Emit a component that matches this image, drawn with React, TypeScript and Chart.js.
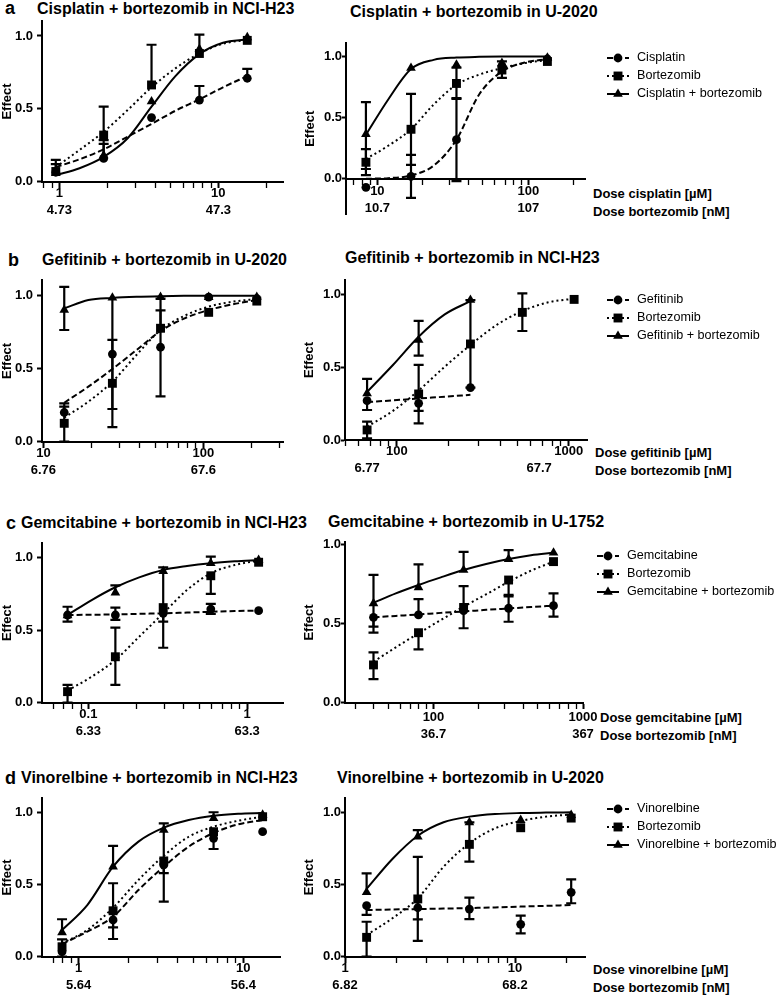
import React, { useEffect, useRef } from "react";
import { Chart, registerables } from "chart.js";

Chart.register(...registerables);
const FONT = "Arial, 'Liberation Sans', Helvetica, sans-serif";
Chart.defaults.font.family = FONT;
Chart.defaults.color = "#000";

// ---------------- DATA ----------------
const yTickVals = [0, 0.5, 1.0];

// Row a, left: Cisplatin + bortezomib in NCI-H23
const aL_doses = [0.95, 1.9, 3.8, 7.6, 15.2];
const aL_fitX = [0.95, 1.34, 1.9, 2.69, 3.8, 5.37, 7.6, 10.7, 15.2];
const aL_drug = [0.065, 0.16, 0.44, 0.56, 0.71];
const aL_drugLo = [null, null, null, null, null];
const aL_drugHi = [0.12, 0.26, null, 0.657, 0.775];
const aL_drugFit = [0.1, 0.154, 0.222, 0.309, 0.396, 0.487, 0.565, 0.648, 0.725];
const aL_bort = [0.07, 0.32, 0.664, 0.88, 0.97];
const aL_bortLo = [null, null, null, null, null];
const aL_bortHi = [0.15, 0.515, 0.94, null, null];
const aL_bortFit = [0.1, 0.218, 0.343, 0.492, 0.648, 0.778, 0.88, 0.947, 0.973];
const aL_combo = [0.06, 0.18, 0.55, 0.91, 0.99];
const aL_comboLo = [null, null, null, null, null];
const aL_comboHi = [null, 0.285, null, 1.01, null];
const aL_comboFit = [0.045, 0.092, 0.17, 0.298, 0.515, 0.725, 0.876, 0.954, 0.977];
const aL_ticks = [1, 10];
const aL_tickLabels = ["1", "10"];
const aL_secTicks = [1, 10];
const aL_secLabels = ["4.73", "47.3"];

// Row a, right: Cisplatin + bortezomib in U-2020
const aR_doses = [8.4, 16.7, 33.4, 66.8, 133.6];
const aR_fitX = [8.4, 11.8, 16.7, 23.6, 33.4, 47.2, 66.8, 94.5, 133.6];
const aR_drug = [-0.07, 0.02, 0.32, 0.92, 0.98];
const aR_drugLo = [null, -0.157, -0.02, null, null];
const aR_drugHi = [null, 0.195, 0.66, null, null];
const aR_drugFit = [0.0, 0.005, 0.027, 0.108, 0.32, 0.69, 0.878, 0.951, 0.979];
const aR_bort = [0.135, 0.405, 0.78, 0.89, 0.96];
const aR_bortLo = [0.03, 0.114, 0.654, 0.825, null];
const aR_bortHi = [0.243, 0.695, 0.91, 0.96, null];
const aR_bortFit = [0.162, 0.27, 0.405, 0.608, 0.77, 0.852, 0.906, 0.946, 0.973];
const aR_combo = [0.365, 0.906, 0.933, 0.946, 0.99];
const aR_comboLo = [0.08, null, null, null, null];
const aR_comboHi = [0.627, null, null, null, null];
const aR_comboFit = [0.36, 0.649, 0.898, 0.973, 0.992, 0.998, 1.0, 1.0, 1.0];
const aR_ticks = [10, 100];
const aR_tickLabels = ["10", "100"];
const aR_secTicks = [10, 100];
const aR_secLabels = ["10.7", "107"];
const a_legend = ["Cisplatin", "Bortezomib", "Cisplatin + bortezomib"];

// Row b, left: Gefitinib + bortezomib in U-2020
const bL_doses = [13.5, 27, 54, 108, 216];
const bL_fitX = [13.5, 19.1, 27, 38.2, 54, 76.4, 108, 153, 216];
const bL_drug = [0.2, 0.6, 0.647, 0.99, 0.98];
const bL_drugLo = [null, null, 0.31, null, null];
const bL_drugHi = [0.263, null, 0.98, null, null];
const bL_drugFit = [0.267, 0.377, 0.498, 0.628, 0.758, 0.845, 0.902, 0.941, 0.97];
const bL_bort = [0.126, 0.4, 0.777, 0.886, 0.963];
const bL_bortLo = [0.0, 0.1, null, null, null];
const bL_bortHi = [0.24, 0.697, 0.9, null, null];
const bL_bortFit = [0.165, 0.274, 0.411, 0.594, 0.765, 0.863, 0.925, 0.959, 0.977];
const bL_combo = [0.902, 0.986, 0.99, 0.99, 0.99];
const bL_comboLo = [0.765, 0.224, null, null, null];
const bL_comboHi = [1.06, null, null, null, null];
const bL_comboFit = [0.913, 0.97, 0.985, 0.993, 0.997, 0.999, 1.0, 1.0, 1.0];
const bL_ticks = [10, 100];
const bL_tickLabels = ["10", "100"];
const bL_secTicks = [10, 100];
const bL_secLabels = ["6.76", "67.6"];

// Row b, right: Gefitinib + bortezomib in NCI-H23
const bR_doses = [67.2, 134, 268, 537, 1074];
const bR_fitX = [67.2, 95, 134, 190, 268, 380, 537, 760, 1074];
const bR_drug = [0.27, 0.252, 0.359];
const bR_drugLo = [0.206, 0.2, null];
const bR_drugHi = [null, null, null];
const bR_drugFit = [0.26, 0.272, 0.285, 0.297, 0.31];
const bR_bort = [0.069, 0.316, 0.659, 0.876, 0.965];
const bR_bortLo = [0.012, 0.114, 0.36, 0.748, null];
const bR_bortHi = [0.126, 0.515, 0.96, 1.007, null];
const bR_bortFit = [0.091, 0.2, 0.34, 0.503, 0.652, 0.789, 0.885, 0.945, 0.97];
const bR_combo = [0.32, 0.686, 0.961];
const bR_comboLo = [null, 0.579, null];
const bR_comboHi = [0.419, 0.817, null];
const bR_comboFit = [0.33, 0.515, 0.709, 0.862, 0.953];
const bR_ticks = [100, 1000];
const bR_tickLabels = ["100", "1000"];
const bR_secTicks = [67.2, 672];
const bR_secLabels = ["6.77", "67.7"];
const b_legend = ["Gefitinib", "Bortezomib", "Gefitinib + bortezomib"];

// Row c, left: Gemcitabine + bortezomib in NCI-H23
const cL_doses = [0.074, 0.148, 0.296, 0.59, 1.18];
const cL_fitX = [0.074, 0.105, 0.148, 0.209, 0.296, 0.418, 0.59, 0.835, 1.18];
const cL_drug = [0.603, 0.603, 0.615, 0.644, 0.633];
const cL_drugLo = [0.557, 0.57, 0.557, 0.61, null];
const cL_drugHi = [0.66, 0.654, null, 0.68, null];
const cL_drugFit = [0.603, 0.605, 0.607, 0.611, 0.615, 0.62, 0.625, 0.63, 0.634];
const cL_bort = [0.076, 0.316, 0.654, 0.873, 0.966];
const cL_bortLo = [0.0, 0.122, 0.378, 0.748, null];
const cL_bortHi = [0.122, 0.516, 0.931, null, null];
const cL_bortFit = [0.083, 0.179, 0.294, 0.454, 0.615, 0.775, 0.89, 0.947, 0.977];
const cL_combo = [0.6, 0.757, 0.905, 0.959, 0.98];
const cL_comboLo = [null, null, null, null, null];
const cL_comboHi = [null, 0.807, null, 1.004, null];
const cL_comboFit = [0.603, 0.706, 0.794, 0.862, 0.913, 0.94, 0.959, 0.972, 0.981];
const cL_ticks = [0.1, 1];
const cL_tickLabels = ["0.1", "1"];
const cL_secTicks = [0.1, 1];
const cL_secLabels = ["6.33", "63.3"];

// Row c, right: Gemcitabine + bortezomib in U-1752
const cR_doses = [39.7, 79.4, 159, 318, 635];
const cR_fitX = [39.7, 56, 79.4, 112, 159, 225, 318, 449, 635];
const cR_drug = [0.538, 0.553, 0.58, 0.595, 0.611];
const cR_drugLo = [0.441, null, null, 0.51, 0.542];
const cR_drugHi = [null, 0.653, null, 0.67, 0.689];
const cR_drugFit = [0.538, 0.547, 0.556, 0.566, 0.575, 0.585, 0.594, 0.603, 0.611];
const cR_bort = [0.238, 0.441, 0.6, 0.773, 0.889];
const cR_bortLo = [0.149, 0.336, 0.469, 0.679, null];
const cR_bortHi = [0.317, null, 0.735, null, null];
const cR_bortFit = [0.258, 0.349, 0.437, 0.521, 0.605, 0.683, 0.762, 0.832, 0.889];
const cR_combo = [0.626, 0.727, 0.836, 0.905, 0.945];
const cR_comboLo = [0.479, null, null, null, null];
const cR_comboHi = [0.805, 0.872, 0.951, 0.962, null];
const cR_comboFit = [0.63, 0.689, 0.742, 0.79, 0.836, 0.874, 0.905, 0.929, 0.945];
const cR_ticks = [100, 1000];
const cR_tickLabels = ["100", "1000"];
const cR_secTicks = [100, 1000];
const cR_secLabels = ["36.7", "367"];
const c_legend = ["Gemcitabine", "Bortezomib", "Gemcitabine + bortezomib"];

// Row d, left: Vinorelbine + bortezomib in NCI-H23
const dL_doses = [0.794, 1.62, 3.29, 6.6, 13.1];
const dL_fitX = [0.794, 1.13, 1.62, 2.31, 3.29, 4.66, 6.6, 9.3, 13.1];
const dL_drug = [0.035, 0.255, 0.637, 0.822, 0.868];
const dL_drugLo = [null, 0.123, 0.382, 0.748, null];
const dL_drugHi = [null, null, null, null, null];
const dL_drugFit = [0.088, 0.174, 0.278, 0.463, 0.625, 0.764, 0.859, 0.919, 0.949];
const dL_bort = [0.069, 0.319, 0.665, 0.868, 0.972];
const dL_bortLo = [0.0, 0.204, 0.58, null, null];
const dL_bortHi = [0.12, 0.51, 0.926, null, null];
const dL_bortFit = [0.093, 0.185, 0.34, 0.533, 0.701, 0.833, 0.903, 0.944, 0.972];
const dL_combo = [0.169, 0.625, 0.88, 0.961, 0.985];
const dL_comboLo = [null, null, null, null, null];
const dL_comboHi = [0.26, 0.769, null, 1.003, null];
const dL_comboFit = [0.185, 0.359, 0.625, 0.799, 0.896, 0.949, 0.979, 0.993, 0.998];
const dL_ticks = [1, 10];
const dL_tickLabels = ["1", "10"];
const dL_secTicks = [1, 10];
const dL_secLabels = ["5.64", "56.4"];

// Row d, right: Vinorelbine + bortezomib in U-2020
const dR_doses = [1.34, 2.68, 5.39, 10.8, 21.4];
const dR_fitX = [1.34, 1.9, 2.68, 3.8, 5.39, 7.63, 10.8, 15.2, 21.4];
const dR_drug = [0.353, 0.339, 0.33, 0.224, 0.446];
const dR_drugLo = [0.289, 0.259, 0.26, 0.162, 0.37];
const dR_drugHi = [null, null, 0.409, 0.284, 0.536];
const dR_drugFit = [0.323, 0.327, 0.33, 0.333, 0.337, 0.341, 0.347, 0.352, 0.358];
const dR_bort = [0.134, 0.4, 0.778, 0.893, 0.96];
const dR_bortLo = [0.0, 0.109, 0.658, null, null];
const dR_bortHi = [0.242, 0.692, 0.93, null, null];
const dR_bortFit = [0.15, 0.266, 0.404, 0.623, 0.785, 0.889, 0.94, 0.97, 0.985];
const dR_combo = [0.446, 0.831, 0.93, 0.946, 0.98];
const dR_comboLo = [null, null, null, null, null];
const dR_comboHi = [0.577, 0.877, null, null, null];
const dR_comboFit = [0.47, 0.677, 0.838, 0.931, 0.97, 0.988, 0.995, 0.998, 1.0];
const dR_ticks = [1, 10];
const dR_tickLabels = ["1", "10"];
const dR_secTicks = [1, 10];
const dR_secLabels = ["6.82", "68.2"];
const d_legend = ["Vinorelbine", "Bortezomib", "Vinorelbine + bortezomib"];

// ---------------- STYLE ----------------
type Style = "circle" | "rect" | "triangle";
const STYLE_DRUG = { style: "circle" as Style, dash: [6, 3] };
const STYLE_BORT = { style: "rect" as Style, dash: [2, 3] };
const STYLE_COMBO = { style: "triangle" as Style, dash: [] as number[] };
const RADIUS: Record<Style, number> = { circle: 4.4, rect: 6.3, triangle: 5.6 };

type Series = { style: Style; dash: number[]; y: number[]; lo: (number | null)[]; hi: (number | null)[]; fit: number[] };
type PanelDef = {
  side: "left" | "right";
  axisX: number; xEnd: number; pix0: number; pix1: number;
  yMin: number; yMax: number; xMin: number; xMax: number;
  doses: number[]; fitX: number[];
  ticks: number[]; tickLabels: string[]; secTicks: number[]; secLabels: string[];
  series: Series[];
  legend?: { x: number; y: number; labels: string[] };
  lblOff?: number;
};

const mk = (st: any, y: number[], lo: any[], hi: any[], fit: number[]): Series => ({ ...st, y, lo, hi, fit });

const panels: PanelDef[] = [
  {
    side: "left", axisX: 42, xEnd: 283, pix0: 181.7, pix1: 36, yMin: 0, yMax: 1.1, xMin: 0.778, xMax: 25.5,
    doses: aL_doses, fitX: aL_fitX, ticks: aL_ticks, tickLabels: aL_tickLabels, secTicks: aL_secTicks, secLabels: aL_secLabels,
    series: [mk(STYLE_DRUG, aL_drug, aL_drugLo, aL_drugHi, aL_drugFit), mk(STYLE_BORT, aL_bort, aL_bortLo, aL_bortHi, aL_bortFit), mk(STYLE_COMBO, aL_combo, aL_comboLo, aL_comboHi, aL_comboFit)],
  },
  {
    side: "right", axisX: 346, xEnd: 585, pix0: 180, pix1: 56.7, yMin: -0.29, yMax: 1.108, xMin: 6.2, xMax: 237,
    doses: aR_doses, fitX: aR_fitX, ticks: aR_ticks, tickLabels: aR_tickLabels, secTicks: aR_secTicks, secLabels: aR_secLabels,
    series: [mk(STYLE_DRUG, aR_drug, aR_drugLo, aR_drugHi, aR_drugFit), mk(STYLE_BORT, aR_bort, aR_bortLo, aR_bortHi, aR_bortFit), mk(STYLE_COMBO, aR_combo, aR_comboLo, aR_comboHi, aR_comboFit)],
    legend: { x: 607, y: 58, labels: a_legend }, lblOff: 13,
  },
  {
    side: "left", axisX: 42, xEnd: 283, pix0: 441.7, pix1: 295.7, yMin: 0, yMax: 1.107, xMin: 9.8, xMax: 315,
    doses: bL_doses, fitX: bL_fitX, ticks: bL_ticks, tickLabels: bL_tickLabels, secTicks: bL_secTicks, secLabels: bL_secLabels,
    series: [mk(STYLE_DRUG, bL_drug, bL_drugLo, bL_drugHi, bL_drugFit), mk(STYLE_BORT, bL_bort, bL_bortLo, bL_bortHi, bL_bortFit), mk(STYLE_COMBO, bL_combo, bL_comboLo, bL_comboHi, bL_comboFit)],
  },
  {
    side: "right", axisX: 345, xEnd: 587, pix0: 440, pix1: 294.3, yMin: 0, yMax: 1.098, xMin: 50, xMax: 1276,
    doses: bR_doses, fitX: bR_fitX, ticks: bR_ticks, tickLabels: bR_tickLabels, secTicks: bR_secTicks, secLabels: bR_secLabels,
    series: [mk(STYLE_DRUG, bR_drug, bR_drugLo, bR_drugHi, bR_drugFit), mk(STYLE_BORT, bR_bort, bR_bortLo, bR_bortHi, bR_bortFit), mk(STYLE_COMBO, bR_combo, bR_comboLo, bR_comboHi, bR_comboFit)],
    legend: { x: 607, y: 300, labels: b_legend },
  },
  {
    side: "left", axisX: 42, xEnd: 283, pix0: 702.7, pix1: 557.3, yMin: 0, yMax: 1.096, xMin: 0.0511, xMax: 1.68,
    doses: cL_doses, fitX: cL_fitX, ticks: cL_ticks, tickLabels: cL_tickLabels, secTicks: cL_secTicks, secLabels: cL_secLabels,
    series: [mk(STYLE_DRUG, cL_drug, cL_drugLo, cL_drugHi, cL_drugFit), mk(STYLE_BORT, cL_bort, cL_bortLo, cL_bortHi, cL_bortFit), mk(STYLE_COMBO, cL_combo, cL_comboLo, cL_comboHi, cL_comboFit)],
  },
  {
    side: "right", axisX: 345, xEnd: 583, pix0: 702.7, pix1: 544, yMin: 0, yMax: 1.01, xMin: 25.6, xMax: 1000,
    doses: cR_doses, fitX: cR_fitX, ticks: cR_ticks, tickLabels: cR_tickLabels, secTicks: cR_secTicks, secLabels: cR_secLabels,
    series: [mk(STYLE_DRUG, cR_drug, cR_drugLo, cR_drugHi, cR_drugFit), mk(STYLE_BORT, cR_bort, cR_bortLo, cR_bortHi, cR_bortFit), mk(STYLE_COMBO, cR_combo, cR_comboLo, cR_comboHi, cR_comboFit)],
    legend: { x: 597, y: 556, labels: c_legend }, lblOff: 14.5,
  },
  {
    side: "left", axisX: 42, xEnd: 280, pix0: 956.7, pix1: 812.7, yMin: 0, yMax: 1.1, xMin: 0.625, xMax: 16.7,
    doses: dL_doses, fitX: dL_fitX, ticks: dL_ticks, tickLabels: dL_tickLabels, secTicks: dL_secTicks, secLabels: dL_secLabels,
    series: [mk(STYLE_DRUG, dL_drug, dL_drugLo, dL_drugHi, dL_drugFit), mk(STYLE_BORT, dL_bort, dL_bortLo, dL_bortHi, dL_bortFit), mk(STYLE_COMBO, dL_combo, dL_comboLo, dL_comboHi, dL_comboFit)],
  },
  {
    side: "right", axisX: 345, xEnd: 585, pix0: 956.7, pix1: 812.3, yMin: 0, yMax: 1.1, xMin: 1, xMax: 25.8,
    doses: dR_doses, fitX: dR_fitX, ticks: dR_ticks, tickLabels: dR_tickLabels, secTicks: dR_secTicks, secLabels: dR_secLabels,
    series: [mk(STYLE_DRUG, dR_drug, dR_drugLo, dR_drugHi, dR_drugFit), mk(STYLE_BORT, dR_bort, dR_bortLo, dR_bortHi, dR_bortFit), mk(STYLE_COMBO, dR_combo, dR_comboLo, dR_comboHi, dR_comboFit)],
    legend: { x: 607, y: 809, labels: d_legend },
  },
];

const titles = [
  { t: "Cisplatin + bortezomib in NCI-H23", x: 37, y: 9 },
  { t: "Cisplatin + bortezomib in U-2020", x: 350, y: 12 },
  { t: "Gefitinib + bortezomib in U-2020", x: 42, y: 260 },
  { t: "Gefitinib + bortezomib in NCI-H23", x: 345, y: 258 },
  { t: "Gemcitabine + bortezomib in NCI-H23", x: 21, y: 523 },
  { t: "Gemcitabine + bortezomib in U-1752", x: 328, y: 522 },
  { t: "Vinorelbine + bortezomib in NCI-H23", x: 21, y: 778 },
  { t: "Vinorelbine + bortezomib in U-2020", x: 337, y: 778 },
];
const letters = [
  { t: "a", x: 5, y: 8 }, { t: "b", x: 8, y: 260 }, { t: "c", x: 6, y: 523 }, { t: "d", x: 5, y: 778 },
];
const doseLabels = [
  { t: "Dose cisplatin [µM]", x: 593, y: 193 },
  { t: "Dose bortezomib [nM]", x: 593, y: 211 },
  { t: "Dose gefitinib [µM]", x: 595, y: 452 },
  { t: "Dose bortezomib [nM]", x: 595, y: 470 },
  { t: "Dose gemcitabine [µM]", x: 600, y: 717 },
  { t: "Dose bortezomib [nM]", x: 600, y: 735 },
  { t: "Dose vinorelbine [µM]", x: 593, y: 969 },
  { t: "Dose bortezomib [nM]", x: 593, y: 987 },
];

// ---------------- PLUGINS ----------------
function drawMarker(ctx: CanvasRenderingContext2D, style: Style, x: number, y: number) {
  const r = RADIUS[style];
  ctx.beginPath();
  if (style === "circle") ctx.arc(x, y, r, 0, Math.PI * 2);
  else if (style === "rect") { const s = r * Math.SQRT1_2; ctx.rect(x - s, y - s, 2 * s, 2 * s); }
  else {
    let a = 0;
    ctx.moveTo(x + Math.sin(a) * r, y - Math.cos(a) * r);
    a += (2 * Math.PI) / 3; ctx.lineTo(x + Math.sin(a) * r, y - Math.cos(a) * r);
    a += (2 * Math.PI) / 3; ctx.lineTo(x + Math.sin(a) * r, y - Math.cos(a) * r);
    ctx.closePath();
  }
  ctx.fillStyle = "#000";
  ctx.fill();
}

const errorBars = {
  id: "errorBars",
  beforeDatasetsDraw(chart: any) {
    const ctx = chart.ctx as CanvasRenderingContext2D;
    const xs = chart.scales.x, ys = chart.scales.y;
    ctx.save();
    ctx.strokeStyle = "#000";
    ctx.lineWidth = 2.2;
    chart.data.datasets.forEach((ds: any) => {
      if (!ds.errLo) return;
      ds.data.forEach((pt: any, i: number) => {
        const lo = ds.errLo[i], hi = ds.errHi[i];
        if (lo == null && hi == null) return;
        const px = xs.getPixelForValue(pt.x);
        const y0 = ys.getPixelForValue(lo == null ? pt.y : lo);
        const y1 = ys.getPixelForValue(hi == null ? pt.y : hi);
        ctx.beginPath();
        ctx.moveTo(px, y0); ctx.lineTo(px, y1);
        if (lo != null) { ctx.moveTo(px - 5, y0); ctx.lineTo(px + 5, y0); }
        if (hi != null) { ctx.moveTo(px - 5, y1); ctx.lineTo(px + 5, y1); }
        ctx.stroke();
      });
    });
    ctx.restore();
  },
};

const sideLegend = {
  id: "sideLegend",
  afterDraw(chart: any, _a: any, opts: any) {
    if (!opts || !opts.items) return;
    const ctx = chart.ctx as CanvasRenderingContext2D;
    ctx.save();
    opts.items.forEach((it: any, i: number) => {
      const y = opts.y + i * 18;
      ctx.strokeStyle = "#000";
      ctx.lineWidth = 2;
      ctx.setLineDash(it.dash);
      ctx.beginPath();
      ctx.moveTo(opts.x, y); ctx.lineTo(opts.x + 22, y);
      ctx.stroke();
      ctx.setLineDash([]);
      drawMarker(ctx, it.style, opts.x + 11, y);
      ctx.fillStyle = "#000";
      ctx.font = `12.6px ${FONT}`;
      ctx.textBaseline = "middle";
      ctx.fillText(it.label, opts.x + 30, y);
    });
    ctx.restore();
  },
};

function logTicks(min: number, max: number) {
  const out: number[] = [];
  for (let e = Math.floor(Math.log10(min)) - 1; e <= Math.ceil(Math.log10(max)); e++) {
    for (let k = 1; k <= 9; k++) {
      const v = Number((k * Math.pow(10, e)).toPrecision(6));
      if (v >= min * 0.9999 && v <= max * 1.0001) out.push(v);
    }
  }
  return out;
}
const isDecade = (v: number) => v > 0 && Math.abs(Math.log10(v) - Math.round(Math.log10(v))) < 1e-6;
const findIdx = (arr: number[], v: number) => arr.findIndex((t) => Math.abs(t - v) / t < 1e-4);

// ---------------- COMPONENTS ----------------
function Panel({ p }: { p: PanelDef }) {
  const ref = useRef<HTMLCanvasElement>(null);
  const left = p.side === "left";
  const yW = left ? 42 : 43;
  const unit = p.pix0 - p.pix1;
  const top = p.pix0 - p.yMax * unit;
  const bottom = p.pix0 - p.yMin * unit;
  const cLeft = Math.round(p.axisX - yW);
  const cTop = Math.floor(top) - 14;
  const padTop = top - cTop;
  const W = left ? Math.round(p.xEnd + 8 - cLeft) : 780 - cLeft;
  const padRight = cLeft + W - p.xEnd;
  const need = Math.max(bottom, p.pix0 + 40) + 2;
  const H = Math.ceil(need) - cTop;
  const padBottom = cTop + H - bottom;
  const off = p.lblOff ?? 11.5;

  useEffect(() => {
    const datasets: any[] = [];
    p.series.forEach((s) => {
      datasets.push({
        data: p.fitX.slice(0, s.fit.length).map((x, i) => ({ x, y: s.fit[i] })),
        showLine: true, borderColor: "#000", borderWidth: 2, borderDash: s.dash, pointRadius: 0,
        fill: false, cubicInterpolationMode: "monotone", clip: false,
      });
    });
    p.series.forEach((s) => {
      datasets.push({
        data: p.doses.slice(0, s.y.length).map((x, i) => ({ x, y: s.y[i] })),
        pointStyle: s.style, pointRadius: RADIUS[s.style], backgroundColor: "#000", borderColor: "#000",
        borderWidth: 0, showLine: false, clip: false, errLo: s.lo, errHi: s.hi,
      });
    });
    const tickFont = { size: 13, weight: "bold" as const, lineHeight: 1 };
    const chart = new Chart(ref.current!, {
      type: "scatter",
      data: { datasets },
      plugins: [errorBars, sideLegend],
      options: {
        animation: false, responsive: false, events: [],
        layout: { padding: { top: padTop, left: 0, right: padRight, bottom: padBottom } },
        plugins: {
          legend: { display: false }, tooltip: { enabled: false },
          sideLegend: p.legend
            ? { x: p.legend.x - cLeft, y: p.legend.y - cTop, items: p.series.map((s, i) => ({ style: s.style, dash: s.dash, label: p.legend!.labels[i] })) }
            : {},
        } as any,
        scales: {
          x: {
            type: "logarithmic", min: p.xMin, max: p.xMax, position: { y: 0 } as any,
            afterFit: (s: any) => { s.height = 0; },
            afterBuildTicks: (s: any) => { s.ticks = logTicks(p.xMin, p.xMax).map((v) => ({ value: v })); },
            grid: {
              display: true, drawOnChartArea: false, drawTicks: true, tickLength: 5, tickColor: "#000",
              tickWidth: (c: any) => (c.tick && isDecade(c.tick.value) ? 2 : 1.3),
            },
            border: { display: true, color: "#000", width: 2 },
            ticks: {
              autoSkip: false, maxRotation: 0, minRotation: 0, padding: off - 5 - 6.5, color: "#000", font: tickFont,
              callback: (v: any) => { const i = findIdx(p.ticks, Number(v)); return i >= 0 ? p.tickLabels[i] : ""; },
            },
          },
          x2: {
            type: "logarithmic", min: p.xMin, max: p.xMax, position: { y: 0 } as any,
            afterFit: (s: any) => { s.height = 0; },
            afterBuildTicks: (s: any) => { s.ticks = p.secTicks.map((v) => ({ value: v })); },
            grid: { display: false, drawOnChartArea: false, drawTicks: false },
            border: { display: false },
            ticks: {
              autoSkip: false, maxRotation: 0, minRotation: 0, padding: off + 17 - 6.5, color: "#000", font: tickFont,
              callback: (v: any) => { const i = findIdx(p.secTicks, Number(v)); return i >= 0 ? p.secLabels[i] : ""; },
            },
          },
          y: {
            type: "linear", min: p.yMin, max: p.yMax, position: "left",
            afterFit: (s: any) => { s.width = yW; },
            afterBuildTicks: (s: any) => { s.ticks = yTickVals.map((v) => ({ value: v })); },
            grid: { display: true, drawOnChartArea: false, drawTicks: true, tickLength: left ? 5 : 4, tickWidth: 2, tickColor: "#000" },
            border: { display: true, color: "#000", width: 2 },
            ticks: { padding: left ? 4 : 0, color: "#000", font: { size: 13, weight: "bold" }, callback: (v: any) => Number(v).toFixed(1) },
            title: { display: true, text: "Effect", color: "#000", font: { size: 13, weight: "bold" }, padding: 0 },
          },
        } as any,
      },
    });
    return () => chart.destroy();
  }, []);

  return (
    <canvas
      ref={ref}
      width={W}
      height={H}
      style={{ position: "absolute", left: cLeft, top: cTop, width: W, height: H }}
    />
  );
}

function Txt({ t, x, y, size, weight }: { t: string; x: number; y: number; size: number; weight: string }) {
  return (
    <div style={{ position: "absolute", left: x, top: y - size / 2, fontSize: size, lineHeight: `${size}px`, fontWeight: weight as any, fontFamily: FONT, whiteSpace: "nowrap", color: "#000" }}>
      {t}
    </div>
  );
}

export default function App() {
  return (
    <div style={{ position: "absolute", left: 0, top: 0, width: 780, height: 996, background: "#fff", overflow: "hidden" }}>
      {letters.map((l, i) => <Txt key={"l" + i} t={l.t} x={l.x} y={l.y} size={18} weight="bold" />)}
      {titles.map((l, i) => <Txt key={"t" + i} t={l.t} x={l.x} y={l.y} size={16} weight="bold" />)}
      {doseLabels.map((l, i) => <Txt key={"d" + i} t={l.t} x={l.x} y={l.y} size={13} weight="bold" />)}
      {panels.map((p, i) => <Panel key={i} p={p} />)}
    </div>
  );
}
